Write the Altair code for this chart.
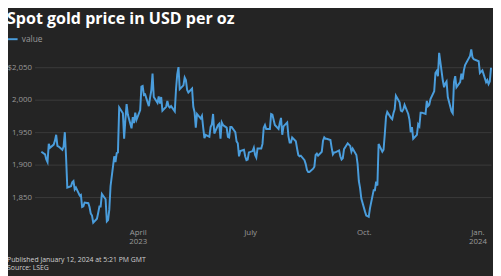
import altair as alt
import pandas as pd

# ---- data (spot gold, USD/oz, daily) ----
first_dates = ["2023-01-13"]
first_values = [1920]
weeks_start = "2023-01-16"
weekly_values = [
    [1916, 1908, 1904, 1932, 1926],  # Jan 16
    [1931, 1937, 1946, 1929, 1928],  # Jan 23
    [1923, 1928, 1950, 1912, 1865],  # Jan 30
    [1867, 1873, 1875, 1862, 1865],  # Feb 6
    [1853, 1854, 1835, 1836, 1842],  # Feb 13
    [1841, 1835, 1825, 1822, 1811],  # Feb 20
    [1817, 1826, 1836, 1836, 1855],  # Feb 27
    [1847, 1813, 1815, 1831, 1867],  # Mar 6
    [1913, 1904, 1918, 1919, 1988],  # Mar 13
    [1979, 1940, 1969, 1993, 1977],  # Mar 20
    [1956, 1973, 1964, 1980, 1969],  # Mar 27
    [1984, 2020, 2021, 2007, 2008],  # Apr 3
    [1990, 2003, 2014, 2040, 2004],  # Apr 10
    [1995, 2005, 1994, 2004, 1983],  # Apr 17
    [1989, 1998, 1990, 1988, 1990],  # Apr 24
    [1982, 2016, 2039, 2050, 2016],  # May 1
    [2022, 2034, 2030, 2015, 2011],  # May 8
    [2017, 1989, 1981, 1957, 1978],  # May 15
    [1971, 1975, 1957, 1941, 1946],  # May 22
    [1943, 1958, 1962, 1978, 1948],  # May 29
    [1961, 1963, 1940, 1965, 1961],  # Jun 5
    [1957, 1943, 1942, 1958, 1958],  # Jun 12
    [1950, 1936, 1933, 1913, 1921],  # Jun 19
    [1923, 1913, 1907, 1908, 1919],  # Jun 26
    [1921, 1926, 1915, 1911, 1925],  # Jul 3
    [1925, 1932, 1957, 1961, 1955],  # Jul 10
    [1955, 1978, 1977, 1969, 1961],  # Jul 17
    [1955, 1964, 1972, 1946, 1959],  # Jul 24
    [1965, 1944, 1934, 1934, 1942],  # Jul 31
    [1936, 1925, 1915, 1913, 1914],  # Aug 7
    [1907, 1901, 1892, 1889, 1889],  # Aug 14
    [1894, 1897, 1915, 1917, 1914],  # Aug 21
    [1920, 1937, 1942, 1940, 1940],  # Aug 28
    [1938, 1926, 1916, 1919, 1919],  # Sep 4
    [1922, 1913, 1908, 1910, 1924],  # Sep 11
    [1933, 1931, 1929, 1920, 1925],  # Sep 18
    [1915, 1901, 1875, 1864, 1848],  # Sep 25
    [1828, 1822, 1821, 1820, 1833],  # Oct 2
    [1861, 1861, 1874, 1868, 1932],  # Oct 9
    [1920, 1923, 1947, 1974, 1981],  # Oct 16
    [1972, 1970, 1979, 1985, 2006],  # Oct 23
    [1996, 1983, 1982, 1985, 1992],  # Oct 30
    [1978, 1969, 1950, 1958, 1940],  # Nov 6
    [1946, 1962, 1959, 1980, 1980],  # Nov 13
    [1978, 1998, 1990, 1992, 2001],  # Nov 20
    [2013, 2041, 2044, 2036, 2072],  # Nov 27
    [2029, 2019, 2025, 2028, 2004],  # Dec 4
    [1982, 1979, 2027, 2036, 2019],  # Dec 11
    [2027, 2040, 2031, 2045, 2053],  # Dec 18
    [None, 2067, 2077, 2065, 2062],  # Dec 25 (holiday Mon)
    [None, 2059, 2041, 2043, 2045],  # Jan 1 (holiday Mon)
    [2027, 2030, 2024, 2028, 2049],  # Jan 8
]

y_ticks = [1850, 1900, 1950, 2000, 2050]
x_ticks = ["2023-04-01", "2023-07-01", "2023-10-01", "2024-01-01"]
title_text = "Spot gold price in USD per oz"
footer_published = "Published January 12, 2024 at 5:21 PM GMT"
footer_source = "Source: LSEG"
series_name = "value"

# ---- build table ----
week_dates = pd.bdate_range(weeks_start, periods=len(weekly_values) * 5)
flat = [v for wk in weekly_values for v in wk]
df = pd.DataFrame({
    "date": list(pd.to_datetime(first_dates)) + list(week_dates),
    "price": first_values + flat,
})
df = df.dropna().reset_index(drop=True)
df["series"] = series_name
df["date"] = df["date"].dt.strftime("%Y-%m-%d")

BG = "#242424"
LINE = "#4a9ddc"
GRID = "#3b3b3b"
LABEL = "#9a9a9a"
FONT = "Open Sans"

x_enc = alt.X(
    "date:T",
    scale=alt.Scale(domain=["2023-01-07T12:00:00", "2024-01-12T00:00:00"]),
    axis=alt.Axis(
        values=[alt.DateTime(year=int(d[:4]), month=int(d[5:7]), date=1) for d in x_ticks],
        labelExpr=(
            "month(datum.value)==3 ? ['April', '2023'] : "
            "month(datum.value)==6 ? ['July'] : "
            "month(datum.value)==9 ? ['Oct.'] : ['Jan.', '2024']"
        ),
        title=None, grid=False, domain=False, ticks=False,
        labelPadding=2, labelFontSize=8, labelColor=LABEL, labelFont=FONT,
        labelLineHeight=9, labelBaseline="top",
    ),
)
y_enc = alt.Y(
    "price:Q",
    scale=alt.Scale(domain=[1805, 2080], zero=False, nice=False),
    axis=alt.Axis(
        values=y_ticks,
        labelExpr="datum.value == 2050 ? '$2,050' : format(datum.value, ',')",
        title=None, domain=False, ticks=False, grid=True,
        gridColor=GRID, gridWidth=1,
        labelPadding=3, labelFontSize=8, labelColor=LABEL, labelFont=FONT,
        labelBaseline="middle",
    ),
)

line = alt.Chart(df).mark_line(strokeWidth=2, clip=False).encode(
    x=x_enc,
    y=y_enc,
    color=alt.Color(
        "series:N",
        scale=alt.Scale(range=[LINE]),
        legend=alt.Legend(
            orient="none", legendX=-29, legendY=-15, title=None,
            symbolType="stroke", symbolSize=110, symbolStrokeWidth=2,
            labelFontSize=8.5, labelColor=LABEL, labelFont=FONT,
            labelOffset=3, padding=0,
        ),
    ),
)

title = alt.Chart(pd.DataFrame({"t": [title_text]})).mark_text(
    align="left", baseline="alphabetic", font=FONT, fontSize=16.3,
    fontWeight="bold", color="#ffffff",
).encode(text="t:N", x=alt.value(-28), y=alt.value(-24))

foot1 = alt.Chart(pd.DataFrame({"t": [footer_published]})).mark_text(
    align="left", baseline="middle", font=FONT, fontSize=7, color="#d0d0d0",
).encode(text="t:N", x=alt.value(-28), y=alt.value(215.5))

foot2 = alt.Chart(pd.DataFrame({"t": [footer_source]})).mark_text(
    align="left", baseline="middle", font=FONT, fontSize=7, color="#d0d0d0",
).encode(text="t:N", x=alt.value(-28), y=alt.value(224.5))

chart = alt.layer(line, title, foot1, foot2).properties(
    width=464, height=182,
    padding={"left": 27, "top": 38, "right": 2, "bottom": 48},
    autosize=alt.AutoSizeParams(type="none"),
    background=BG,
).configure_view(stroke=None)

chart.save("out.html", embed_options={"renderer": "svg", "actions": False})
